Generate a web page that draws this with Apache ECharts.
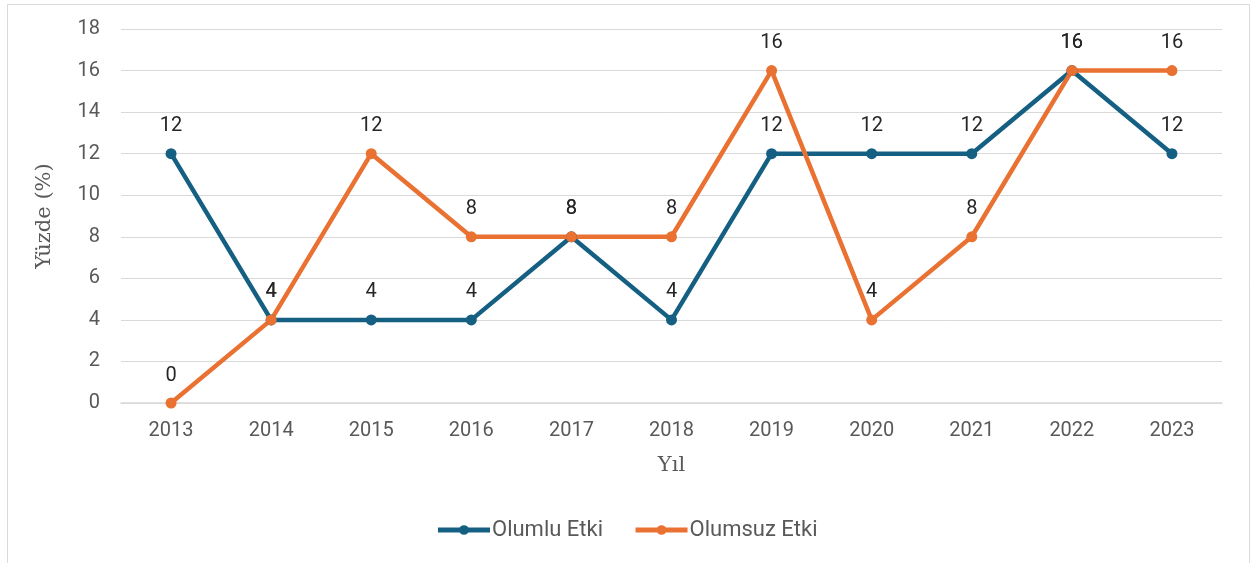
<!DOCTYPE html>
<html>
<head>
<meta charset="utf-8">
<script src="https://cdn.jsdelivr.net/npm/echarts@6/dist/echarts.min.js"></script>
<style>
  html, body { margin: 0; padding: 0; background: #fff; }
  #chart { width: 1253px; height: 563px; }
</style>
</head>
<body>
<div id="chart"></div>
<script>
// 年份
const years = ["2013", "2014", "2015", "2016", "2017", "2018", "2019", "2020", "2021", "2022", "2023"];
// 数据
const olumlu = [12, 4, 4, 4, 8, 4, 12, 12, 12, 16, 12];
const olumsuz = [0, 4, 12, 8, 8, 8, 16, 4, 8, 16, 16];
const seriesNames = ["Olumlu Etki", "Olumsuz Etki"];

const myChart = echarts.init(document.getElementById("chart"));

function lineSeries(name, data, color) {
  return {
    name: name,
    type: "line",
    data: data,
    symbol: "circle",
    symbolSize: 11,
    lineStyle: { width: 4.5, color: color },
    itemStyle: { color: color },
    label: {
      show: true,
      position: "top",
      distance: 12,
      color: "#262626",
      fontSize: 20,
      fontFamily: "Roboto, sans-serif",
    },
  };
}

const options = {
  animation: false,
  graphic: [
    {
      type: "rect",
      shape: { x: 7.5, y: 4.5, width: 1242, height: 580 },
      style: { fill: "none", stroke: "#d9d9d9", lineWidth: 1 },
      z: -1,
    },
  ],
  grid: { left: 121, right: 31, top: 29, bottom: 160 },
  legend: {
    data: seriesNames,
    top: 514,
    left: "center",
    itemWidth: 52,
    itemHeight: 12,
    itemGap: 30,
    itemStyle: { borderWidth: 0 },
    lineStyle: { width: 5 },
    textStyle: { color: "#595959", fontSize: 22, fontFamily: "Roboto, sans-serif", padding: [0, 0, 0, -3] },
  },
  xAxis: {
    type: "category",
    data: years,
    name: "Yıl",
    nameLocation: "middle",
    nameGap: 52,
    nameTextStyle: { color: "#595959", fontSize: 21, fontFamily: "DejaVu Serif, serif" },
    axisLine: { lineStyle: { color: "#d9d9d9", width: 1.5 } },
    axisTick: { show: false },
    axisLabel: { color: "#595959", fontSize: 20, margin: 18, fontFamily: "Roboto, sans-serif" },
  },
  yAxis: {
    type: "value",
    min: 0,
    max: 18,
    interval: 2,
    name: "Yüzde (%)",
    nameLocation: "middle",
    nameGap: 66,
    nameTextStyle: { color: "#595959", fontSize: 21, fontFamily: "DejaVu Serif, serif" },
    axisLine: { show: false },
    axisTick: { show: false },
    axisLabel: { color: "#595959", fontSize: 20, margin: 21, fontFamily: "Roboto, sans-serif" },
    splitLine: { lineStyle: { color: "#d9d9d9", width: 1 } },
  },
  series: [
    lineSeries(seriesNames[0], olumlu, "#156082"),
    lineSeries(seriesNames[1], olumsuz, "#E97132"),
  ],
};

options && myChart.setOption(options);
window.onresize = myChart.resize;
</script>
</body>
</html>
